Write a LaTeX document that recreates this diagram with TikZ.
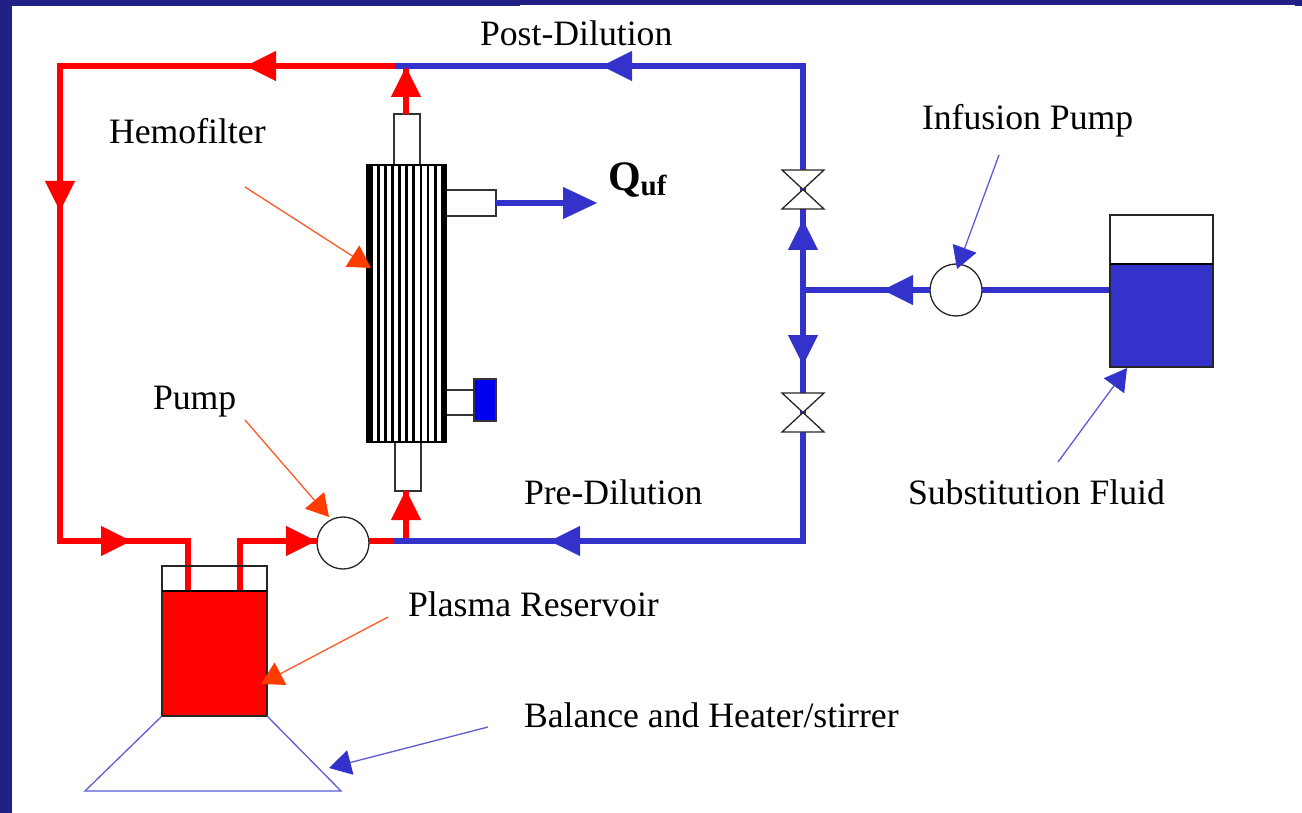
\documentclass[tikz,border=0pt]{standalone}
\usepackage{fontspec}
\setmainfont{Liberation Serif}
\usetikzlibrary{arrows.meta,decorations.markings}
\definecolor{framec}{RGB}{33,33,133}
\definecolor{pipeblue}{RGB}{51,51,204}
\definecolor{piperedc}{RGB}{255,0,0}
\definecolor{callred}{RGB}{255,60,0}
\definecolor{plugblue}{RGB}{0,0,240}
\tikzset{
  redpipe/.style={draw=piperedc,line width=6.5pt,line join=miter},
  bluepipe/.style={draw=pipeblue,line width=6.5pt,line join=miter},
  redhead/.style={decoration={markings,mark=at position #1 with {\arrow{Triangle[length=30pt,width=30pt,color=piperedc]}}},postaction={decorate}},
  bluehead/.style={decoration={markings,mark=at position #1 with {\arrow{Triangle[length=30pt,width=30pt,color=pipeblue]}}},postaction={decorate}},
  bigbluehead/.style={decoration={markings,mark=at position #1 with {\arrow{Triangle[length=34pt,width=32pt,color=pipeblue]}}},postaction={decorate}},
  box/.style={draw=black!80,line width=1.5pt,fill=white,inner sep=0pt,outer sep=0pt},
  pumpc/.style={circle,draw=black!85,line width=1.3pt,fill=white,inner sep=0pt,outer sep=0pt,minimum size=52pt},
  valve/.style={inner sep=0pt,outer sep=0pt,minimum width=42pt,minimum height=39pt},
  valvepath/.style={draw=black!85,line width=1.3pt,fill=white},
  lab/.style={anchor=base west,inner sep=0pt,outer sep=0pt,font=\fontsize{35.7}{40}\selectfont},
  callblue/.style={draw=pipeblue!80,line width=1.3pt,-{Triangle[length=22pt,width=25pt,color=pipeblue]}},
  callrd/.style={draw=callred!85,line width=1.3pt,-{Triangle[length=22pt,width=25pt,color=callred]}},
  bar/.style={fill=black}
}
\begin{document}
\begin{tikzpicture}[x=1pt,y=-1pt]
\useasboundingbox (0,0) rectangle (1302,813);
% frame
\fill[white] (0,0) rectangle (1302,813);
\fill[framec] (0,0) rectangle (1302,5);
\fill[framec] (0,0) rectangle (520,6);
\fill[framec] (1295,0) rectangle (1302,6);
\fill[framec] (0,0) rectangle (12,813);
% named points
\coordinate (jtop) at (395,66);
\coordinate (cTL) at (60,66);
\coordinate (cBL) at (60,541);
\coordinate (cIn) at (188,541);
\coordinate (inEnd) at (188,592);
\coordinate (outEnd) at (240,592);
\coordinate (cOut) at (240,541);
\coordinate (jbot) at (394,541);
\coordinate (riser) at (406,541);
\coordinate (riserT) at (406,66);
\coordinate (cTR) at (803,66);
\coordinate (cBR) at (803,541);
\coordinate (jright) at (803,290);
\coordinate (qout) at (597,203);
\coordinate (qstop) at (575,203);
% equipment
\node[valve] (v1) at (803,189.5) {};
\node[valve] (v2) at (803,412.5) {};
\node[pumpc] (p1) at (343,543) {};
\node[pumpc] (p2) at (956,290) {};
\node[box,minimum width=26pt,minimum height=51pt] (ttube) at (407,139.5) {};
\node[box,minimum width=26pt,minimum height=49pt] (btube) at (408,466.5) {};
\node[box,minimum width=50pt,minimum height=26pt] (qstub) at (471,203) {};
\node[box,minimum width=28pt,minimum height=25pt] (pstub) at (460,402.5) {};
\node[box,fill=plugblue,minimum width=22pt,minimum height=42pt] (plug) at (485,400) {};
\node[box,minimum width=103pt,minimum height=152pt] (tank) at (1161.5,291) {};
\node[box,minimum width=105pt,minimum height=150pt] (res) at (214.5,641) {};
% pipes
\draw[redpipe] (jtop) -- (cTL) -- (cBL) -- (cIn) -- (inEnd);
\draw[redpipe] (outEnd) -- (cOut) -- (cOut -| p1.west);
\draw[redpipe] (cOut -| p1.east) -- (jbot);
\draw[redpipe] (riser |- ttube.north) -- (riserT);
\draw[redpipe] (riser) -- (riser |- btube.south);
\draw[bluepipe] (jtop) -- (cTR) -- (cBR) -- (jbot);
\draw[bluepipe] (p2.west) -- (jright);
\draw[bluepipe] (p2.east) -- (tank.west |- p2.east);
\draw[bluepipe] (qstub.east) -- (qstop);
% arrowheads on pipes
\draw[draw=none,redhead=1] (300,66) -- (246,66);
\draw[draw=none,redhead=1] (60,150) -- (60,211);
\draw[draw=none,redhead=1] (70,541) -- (131,541);
\draw[draw=none,redhead=1] (270,541) -- (316,541);
\draw[draw=none,redhead=1] (riser) -- (406,490);
\draw[draw=none,redhead=1] (406,110) -- (406,67);
\draw[draw=none,bluehead=1] (660,66) -- (602,66);
\draw[draw=none,bluehead=1] (640,541) -- (550,541);
\draw[draw=none,bigbluehead=1] (540,203) -- (qout);
\draw[draw=none,bluehead=1] (803,290) -- (803,220);
\draw[draw=none,bluehead=1] (803,290) -- (803,365);
\draw[draw=none,bluehead=1] (925,290) -- (883,290);
% valves drawn over pipes
\draw[valvepath] (v1.north west) -- (v1.north east) -- (v1.south west) -- (v1.south east) -- cycle;
\draw[valvepath] (v2.north west) -- (v2.north east) -- (v2.south west) -- (v2.south east) -- cycle;
% hemofilter
\node[draw=black,line width=1.5pt,fill=white,inner sep=0pt,outer sep=0pt,minimum width=79pt,minimum height=277pt] (filter) at (406.5,303.5) {};
\fill[bar] (367,165) rectangle (372.5,442);
\fill[bar] (376.9,165) rectangle (379.5,442);
\fill[bar] (383.8,165) rectangle (386.6,442);
\fill[bar] (391,165) rectangle (393.7,442);
\fill[bar] (398,165) rectangle (400.8,442);
\fill[bar] (405.2,165) rectangle (408,442);
\fill[bar] (412.4,165) rectangle (415.2,442);
\fill[bar] (419.5,165) rectangle (422.2,442);
\fill[bar] (426.7,165) rectangle (429.4,442);
\fill[bar] (433.8,165) rectangle (436.6,442);
\fill[bar] (441,165) rectangle (446,442);
% tank and reservoir liquids
\fill[pipeblue] (1110,264) rectangle (1213,367);
\draw[draw=black!85,line width=1.5pt] (tank.north west) rectangle (tank.south east);
\draw[draw=black,line width=1.5pt] (1110,264) -- (1213,264);
\fill[piperedc] (162,591) rectangle (267,716);
\draw[draw=black!85,line width=1.5pt] (res.north west) rectangle (res.south east);
\draw[draw=black,line width=1.5pt] (162,591) -- (267,591);
% balance
\coordinate (bA) at (85,791);
\coordinate (bB) at (341,791);
\draw[draw=pipeblue!80,line width=1.3pt] (res.south west) -- (bA) -- (bB) -- (res.south east);
% callouts
\coordinate (c1s) at (245,187); \coordinate (c1e) at (371,268);
\coordinate (c2s) at (245,420); \coordinate (c2e) at (329,517);
\coordinate (c3s) at (388,617); \coordinate (c3e) at (261,684);
\coordinate (c4s) at (999,155); \coordinate (c4e) at (957,269);
\coordinate (c5s) at (1058,462); \coordinate (c5e) at (1127,368);
\coordinate (c6s) at (488,727); \coordinate (c6e) at (329,768);
\draw[callrd] (c1s) -- (c1e);
\draw[callrd] (c2s) -- (c2e);
\draw[callrd] (c3s) -- (c3e);
\draw[callblue] (c4s) -- (c4e);
\draw[callblue] (c5s) -- (c5e);
\draw[callblue] (c6s) -- (c6e);
% labels
\node[lab] (lpost) at (480,46) {Post-Dilution};
\node[lab] (linf) at (922,130) {Infusion Pump};
\node[lab] (lhemo) at (109,144) {Hemofilter};
\node[lab] (lpump) at (153,409) {Pump};
\node[lab] (lpre) at (524,504) {Pre-Dilution};
\node[lab] (lsub) at (908,504) {Substitution Fluid};
\node[lab] (lplasma) at (408,616) {Plasma Reservoir};
\node[lab] (lbal) at (524,727) {Balance and Heater/stirrer};
\node[anchor=base west,inner sep=0pt,outer sep=0pt] (lq) at (608,191) {\fontsize{42}{45}\selectfont\bfseries Q\raisebox{-5pt}{\fontsize{29}{31}\selectfont uf}};
\end{tikzpicture}
\end{document}
